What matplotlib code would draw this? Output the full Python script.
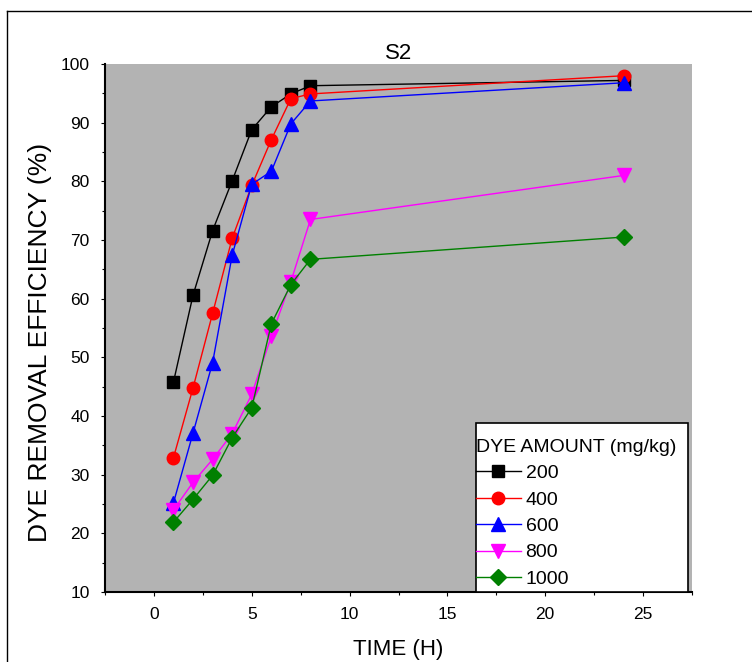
import matplotlib.pyplot as plt
from matplotlib.lines import Line2D
from matplotlib.patches import Rectangle
from matplotlib.ticker import MultipleLocator

plt.rcParams['font.family'] = ['Liberation Sans', 'DejaVu Sans']

# time (h) and dye removal efficiency (%) for each dye amount (mg/kg)
time_h = [1, 2, 3, 4, 5, 6, 7, 8, 24]
eff_200 = [45.8, 60.6, 71.6, 80.1, 88.8, 92.7, 94.9, 96.3, 97.2]
eff_400 = [32.9, 44.8, 57.5, 70.3, 79.3, 87.1, 94.1, 94.9, 98.0]
eff_600 = [25.2, 37.1, 49.1, 67.4, 79.5, 81.7, 89.8, 93.7, 96.8]
eff_800 = [24.0, 28.7, 32.6, 37.0, 43.7, 53.6, 62.9, 73.5, 81.0]
eff_1000 = [21.9, 25.8, 29.9, 36.3, 41.4, 55.7, 62.4, 66.7, 70.5]
labels = ['200', '400', '600', '800', '1000']

series = [eff_200, eff_400, eff_600, eff_800, eff_1000]
colors = ['black', 'red', 'blue', 'magenta', 'green']
markers = ['s', 'o', '^', 'v', 'D']
sizes = [8, 9, 9.5, 9.5, 8.5]

fig = plt.figure(figsize=(7.52, 6.62), dpi=100)
ax = fig.add_axes([105 / 752, 1 - 592 / 662, 587 / 752, 528 / 662])
ax.set_facecolor('#b3b3b3')

for y, c, m, s, lab in zip(series, colors, markers, sizes, labels):
    ax.plot(time_h, y, color=c, marker=m, markersize=s, linewidth=1,
            markeredgecolor=c, label=lab)

ax.set_xlim(-2.5, 27.5)
ax.set_ylim(10, 100)
ax.xaxis.set_major_locator(MultipleLocator(5))
ax.xaxis.set_minor_locator(MultipleLocator(2.5))
ax.yaxis.set_major_locator(MultipleLocator(10))
ax.yaxis.set_minor_locator(MultipleLocator(5))
ax.tick_params(which='both', direction='out', length=3, width=0.8, labelsize=12.5, pad=8)
ax.tick_params(which='minor', length=2)

for side in ['top', 'right']:
    ax.spines[side].set_visible(False)
for side in ['left', 'bottom']:
    ax.spines[side].set_linewidth(1.5)

ax.set_title('S2', fontsize=16, pad=3)
ax.set_xlabel('TIME (H)', fontsize=16, labelpad=12)
ax.set_ylabel('DYE REMOVAL EFFICIENCY (%)', fontsize=19)
ax.yaxis.set_label_coords(-0.09, 0.473)

# legend box drawn separately so it can sit flush on the x axis
ax.add_patch(Rectangle((0.632, 0.0), 0.361, 0.32, transform=ax.transAxes,
                       facecolor='white', edgecolor='black', linewidth=1.2,
                       zorder=4, clip_on=False))
leg = ax.legend(title='DYE AMOUNT (mg/kg)', loc='upper left',
                bbox_to_anchor=(0.632, 0.29), frameon=False,
                fontsize=14, title_fontsize=14, alignment='left',
                handlelength=2.3, handletextpad=0.25, labelspacing=0.45,
                borderaxespad=0, borderpad=0)
leg.set_zorder(5)

# partial outer frame of the original figure
fig.add_artist(Line2D([7 / 752, 1], [1 - 11 / 662] * 2, color='black', linewidth=1))
fig.add_artist(Line2D([7 / 752] * 2, [0, 1 - 11 / 662], color='black', linewidth=1))

fig.savefig('out.png', dpi=100)
